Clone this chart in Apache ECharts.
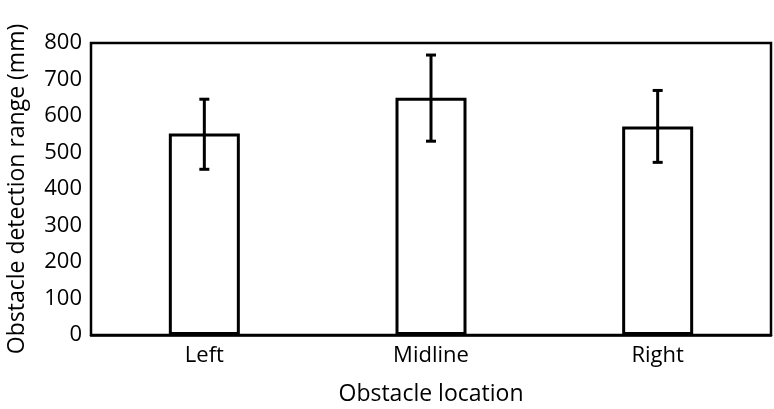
<!DOCTYPE html>
<html>
<head>
<meta charset="utf-8">
<script src="https://cdn.jsdelivr.net/npm/echarts@6/dist/echarts.min.js"></script>
<style>
html,body{margin:0;padding:0;background:#fff;}
#chart{width:774px;height:409px;}
</style>
</head>
<body>
<div id="chart"></div>
<script>
// data
var categories = ["Left", "Midline", "Right"];
var means = [552, 650, 571];
var errLow = [454, 531, 473];
var errHigh = [646, 767, 670];
var yTicks = [0, 100, 200, 300, 400, 500, 600, 700, 800];

var myChart = echarts.init(document.getElementById("chart"));

// error bar data: [category index, low, high]
var errData = [];
for (var i = 0; i < categories.length; i++) {
    errData.push([i, errLow[i], errHigh[i]]);
}

function renderError(params, api) {
    var x = api.coord([api.value(0), api.value(1)])[0];
    var yLow = api.coord([api.value(0), api.value(1)])[1];
    var yHigh = api.coord([api.value(0), api.value(2)])[1];
    var cap = 5;
    var style = { stroke: "#000", lineWidth: 3, fill: null };
    return {
        type: "group",
        children: [
            { type: "line", shape: { x1: x, y1: yHigh, x2: x, y2: yLow }, style: style },
            { type: "line", shape: { x1: x - cap, y1: yHigh, x2: x + cap, y2: yHigh }, style: style },
            { type: "line", shape: { x1: x - cap, y1: yLow, x2: x + cap, y2: yLow }, style: style }
        ]
    };
}

var option = {
    backgroundColor: "#fff",
    animation: false,
    textStyle: { fontFamily: "Open Sans" },
    grid: {
        left: 91, right: 3, top: 43, bottom: 74,
        outerBoundsMode: "none",
        show: true, borderColor: "#000", borderWidth: 2.5, backgroundColor: "transparent"
    },
    xAxis: {
        type: "category",
        data: categories,
        name: "Obstacle location",
        nameLocation: "middle",
        nameGap: 48,
        nameTextStyle: { fontSize: 23, color: "#000", fontFamily: "Open Sans" },
        axisLine: { lineStyle: { color: "#000", width: 2.5 } },
        axisTick: { show: false },
        axisLabel: { fontSize: 22, color: "#000", margin: 10 }
    },
    yAxis: {
        type: "value",
        min: yTicks[0],
        max: yTicks[yTicks.length - 1],
        interval: 100,
        name: "Obstacle detection range (mm)",
        nameLocation: "middle",
        nameGap: 62,
        nameTextStyle: { fontSize: 23, color: "#000", fontFamily: "Open Sans" },
        axisLine: { show: false },
        axisTick: { show: false },
        splitLine: { show: false },
        axisLabel: { fontSize: 22, color: "#000", margin: 9 }
    },
    series: [{
        type: "bar",
        data: means,
        barWidth: 71,
        itemStyle: { color: "#fff", borderColor: "#000", borderWidth: 3 }
    }, {
        type: "custom",
        data: errData,
        renderItem: renderError,
        z: 10
    }]
};
myChart.setOption(option);
</script>
</body>
</html>
